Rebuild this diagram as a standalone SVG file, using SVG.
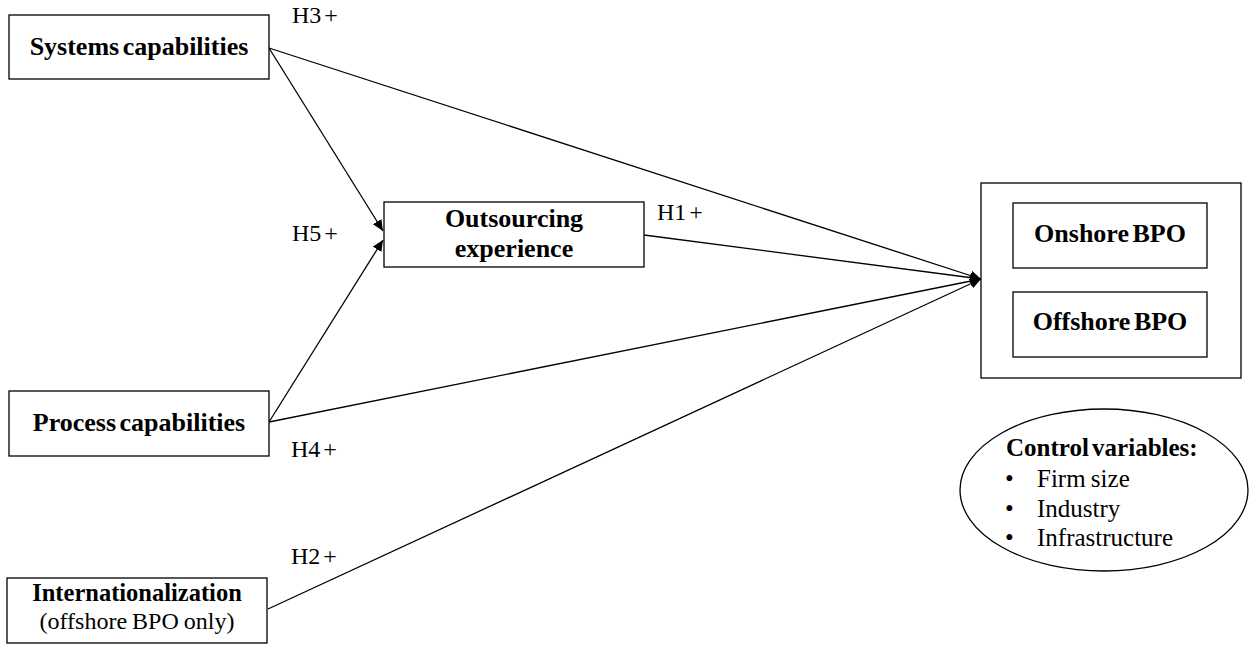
<svg xmlns="http://www.w3.org/2000/svg" width="1249" height="645" viewBox="0 0 1249 645">
<defs>
<marker id="arr" markerUnits="userSpaceOnUse" markerWidth="12" markerHeight="10" refX="11" refY="5" orient="auto">
<path d="M0,0 L11,5 L0,10 Z" fill="#000"/>
</marker>
<style>
.box{fill:#fff;stroke:#000;stroke-width:1.3}
.lbl{font-family:"Liberation Serif","Times New Roman",serif;font-size:26px;font-weight:bold;text-anchor:middle;fill:#000;word-spacing:-3px}
.reg{font-family:"Liberation Serif","Times New Roman",serif;font-size:25px;fill:#000;word-spacing:-1px}
.h{font-family:"Liberation Serif","Times New Roman",serif;font-size:24px;fill:#000;word-spacing:-3px}
.edge{fill:none;stroke:#000;stroke-width:1.3;marker-end:url(#arr)}
</style>
</defs>
<rect width="1249" height="645" fill="#fff"/>
<g id="connectors">
<line class="edge" x1="269" y1="48" x2="383" y2="231"/>
<line class="edge" x1="269" y1="48" x2="981" y2="279"/>
<line class="edge" x1="269" y1="422" x2="383" y2="240"/>
<line class="edge" x1="269" y1="422" x2="981" y2="279"/>
<line class="edge" x1="644" y1="235" x2="981" y2="279"/>
<line class="edge" x1="268" y1="609" x2="981" y2="279"/>
</g>
<g id="labels">
<text class="h" x="292" y="23">H3 +</text>
<text class="h" x="292" y="241">H5 +</text>
<text class="h" x="657" y="220">H1 +</text>
<text class="h" x="291" y="457">H4 +</text>
<text class="h" x="291" y="564">H2 +</text>
</g>
<g id="systems">
<rect class="box" x="9" y="15" width="260" height="64"/>
<text class="lbl" x="139" y="55">Systems capabilities</text>
</g>
<g id="outsourcing">
<rect class="box" x="384" y="202" width="260" height="65"/>
<text class="lbl" x="514" y="227">Outsourcing</text>
<text class="lbl" x="514" y="257">experience</text>
</g>
<g id="process">
<rect class="box" x="9" y="391" width="260" height="65"/>
<text class="lbl" x="139" y="431">Process capabilities</text>
</g>
<g id="internationalization">
<rect class="box" x="7" y="578" width="260" height="65"/>
<text class="lbl" x="137" y="601" style="font-size:24.5px">Internationalization</text>
<text class="reg" x="137" y="629" text-anchor="middle" style="font-size:24px">(offshore BPO only)</text>
</g>
<g id="bpo">
<rect class="box" x="981" y="183" width="260" height="195"/>
<g id="onshore">
<rect class="box" x="1013" y="203" width="194" height="65"/>
<text class="lbl" x="1110" y="242">Onshore BPO</text>
</g>
<g id="offshore">
<rect class="box" x="1013" y="292" width="194" height="65"/>
<text class="lbl" x="1110" y="330">Offshore BPO</text>
</g>
</g>
<g id="controls">
<ellipse cx="1104" cy="490" rx="144" ry="81" fill="#fff" stroke="#000" stroke-width="1.3"/>
<text class="reg" x="1006" y="456" font-weight="bold" style="word-spacing:-3px">Control variables:</text>
<text class="reg" x="1005" y="487">•</text>
<text class="reg" x="1037" y="487">Firm size</text>
<text class="reg" x="1005" y="517">•</text>
<text class="reg" x="1037" y="517">Industry</text>
<text class="reg" x="1005" y="546">•</text>
<text class="reg" x="1037" y="546">Infrastructure</text>
</g>
</svg>
